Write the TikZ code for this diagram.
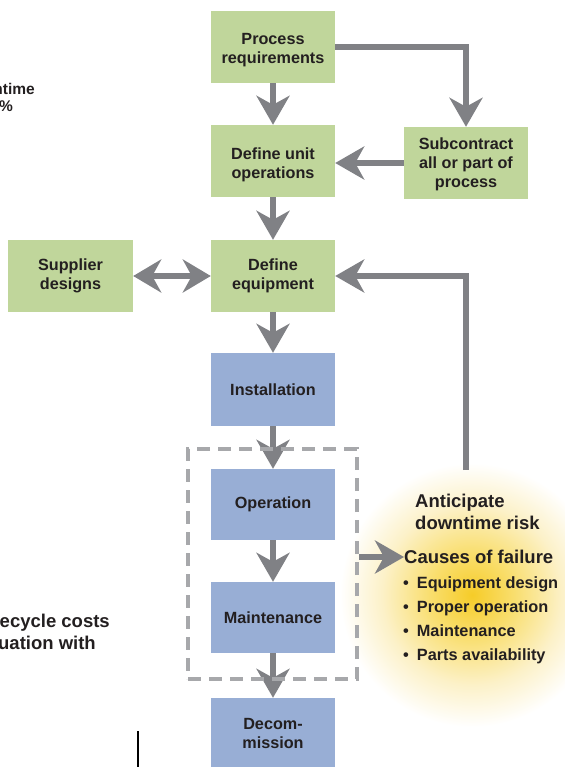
\documentclass[tikz,border=0pt]{standalone}
\usepackage{fontspec}
\setmainfont{Liberation Sans}
\usetikzlibrary{arrows.meta}
\definecolor{gbox}{RGB}{192,214,155}
\definecolor{bbox}{RGB}{152,174,213}
\definecolor{agray}{RGB}{128,129,133}
\definecolor{dgray}{RGB}{167,168,171}
\definecolor{txt}{RGB}{35,31,32}
\definecolor{glowA}{RGB}{246,204,40}
\definecolor{glowB}{RGB}{249,222,110}
\definecolor{glowC}{RGB}{252,241,200}
\pgfdeclareradialshading{glowshade}{\pgfpoint{0bp}{0bp}}{color(0bp)=(glowA); color(7bp)=(glowB); color(15bp)=(glowC); color(22bp)=(white); color(50bp)=(white)}
\tikzset{
  boxtext/.style={font=\fontsize{16.2}{19}\selectfont\bfseries, text=txt, align=center, inner sep=0pt},
  gnode/.style={boxtext, fill=gbox, minimum width=124pt, minimum height=72pt},
  bnode/.style={boxtext, fill=bbox, minimum width=124pt, minimum height=72pt},
  flow/.style={draw=agray, line width=6pt, -{Stealth[length=29pt,width=33pt,inset=9pt]}},
  flow2/.style={draw=agray, line width=6pt, {Stealth[length=28pt,width=33pt,inset=9pt]}-{Stealth[length=28pt,width=33pt,inset=9pt]}},
  dbox/.style={draw=dgray, line width=4pt, dash pattern=on 13pt off 8pt, minimum width=169pt, minimum height=230pt, inner sep=0pt},
  side/.style={font=\fontsize{18.5}{22}\selectfont\bfseries, text=txt, align=left, inner sep=0pt},
  bul/.style={font=\fontsize{16.3}{24}\selectfont\bfseries, text=txt, align=left, inner sep=0pt},
  frag/.style={font=\fontsize{15.5}{18}\selectfont\bfseries, text=txt, anchor=east, inner sep=0pt}
}
\begin{document}
\begin{tikzpicture}[x=1pt,y=-1pt]
\useasboundingbox (0,0) rectangle (564,767);
% glow
\shade[shading=glowshade] (472,595) circle (150pt);
% boxes
\node[gnode] (pr) at (273,47) {};
\node[boxtext] (prt) at (273,50) {Process\\requirements};
\node[gnode] (duo) at (273,161) {};
\node[boxtext] (duot) at (273,165) {Define unit\\operations};
\node[gnode] (sub) at (466,163) {};
\node[boxtext] (subt) at (466,164.5) {Subcontract\\all or part of\\process};
\node[gnode] (de) at (273,276) {Define\\equipment};
\node[gnode, minimum width=125pt] (sup) at (70.5,276) {Supplier\\designs};
\node[bnode, minimum height=73pt] (ins) at (273,389.5) {Installation};
\node[bnode, minimum height=71pt] (op) at (273,504.5) {Operation};
\node[bnode, minimum height=71pt] (mai) at (273,617.5) {Maintenance};
\node[bnode, minimum height=70pt] (dec) at (273,733) {Decom-\\mission};
% side texts
\node[side, anchor=north west] (ant) at (415,494) {Anticipate\\downtime risk};
\node[side, anchor=west] (cau) at (404,557) {Causes of failure};
\node[bul, anchor=north west] (lst) at (403,576) {•\hspace{8pt}Equipment design\\•\hspace{8pt}Proper operation\\•\hspace{8pt}Maintenance\\•\hspace{8pt}Parts availability};
\coordinate (fb) at (466,470);
% arrows
\draw[flow] (pr) -- (duo);
\draw[flow] (duo) -- (de);
\draw[flow] (de) -- (ins);
\draw[flow] (ins) -- (op);
\draw[flow] (op) -- (mai);
\draw[flow] (mai) -- (dec);
\draw[flow] (pr.east) -| (sub.north);
\draw[flow] (sub.west) -- (sub.west -| duo.east);
\draw[flow2] (sup.east) -- (de.west);
\draw[flow] (fb) |- (de.east);
% dashed box
\node[dbox] (db) at (272.5,564) {};
\draw[flow] (db.east |- cau.west) -- (cau.west);
% clipped fragments at left
\node[frag] (f1) at (35,89) {ntime};
\node[frag] (f2) at (13,106) {\%};
\node[side, anchor=east] (f3) at (110,623) {ecycle costs};
\node[side, anchor=east] (f4) at (96,643) {uation with};
\coordinate (v1) at (138,731);
\coordinate (v2) at (138,767);
\draw[line width=2pt, black] (v1) -- (v2);
\end{tikzpicture}
\end{document}
